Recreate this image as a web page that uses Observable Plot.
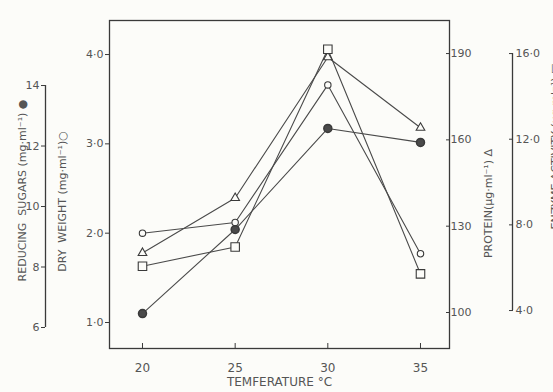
<!DOCTYPE html>
<html><head><meta charset="utf-8">
<script src="https://cdn.jsdelivr.net/npm/d3@7"></script>
<script src="https://cdn.jsdelivr.net/npm/@observablehq/plot@0.6"></script>
<style>html,body{margin:0;padding:0;background:#fcfcf9}</style>
</head><body><div id="chart"></div>
<script>
// ---- data ----
const temperatures = [20, 25, 30, 35];
const dryWeight = [2.0, 2.12, 3.66, 1.77];          // mg·ml⁻¹ (inner left axis) ○
const reducingSugars = [6.46, 9.24, 12.58, 12.12];   // mg·ml⁻¹ (outer left axis) ●
const protein = [120.7, 139.8, 188.7, 164.2];        // µg·ml⁻¹ (inner right axis) △
const activity = [6.07, 6.97, 16.2, 5.71];           // µg·ml⁻¹ (outer right axis) □

const xTicks = [20, 25, 30, 35];
const dryTicks = [1, 2, 3, 4];
const sugarTicks = [6, 8, 10, 12, 14];
const proteinTicks = [100, 130, 160, 190];
const activityTicks = [4, 8, 12, 16];

// ---- secondary axes expressed in the primary (dry weight) units ----
const lin = (v0, a0, v1, a1) => v => a0 + (v - v0) * (a1 - a0) / (v1 - v0);
const sugarToA = lin(6, 0.944, 14, 3.653), aToSugar = lin(0.944, 6, 3.653, 14);
const proteinToA = lin(100, 1.112, 190, 4.011), aToProtein = lin(1.112, 100, 4.011, 190);
const activityToA = lin(4, 1.134, 16, 4.011), aToActivity = lin(1.134, 4, 4.011, 16);

const rows = [];
temperatures.forEach((t, i) => {
  rows.push({series: "dry", t, v: dryWeight[i]});
  rows.push({series: "sugar", t, v: sugarToA(reducingSugars[i])});
  rows.push({series: "protein", t, v: proteinToA(protein[i])});
  rows.push({series: "activity", t, v: activityToA(activity[i])});
});
const of = s => rows.filter(d => d.series === s);

const ink = "#3a3a3a";
const bg = "#fcfcf9";
const dotFmt = d => d3.format(".1f")(d).replace(".", "·");
const xDomain = [18.22, 36.565];

const chart = Plot.plot({
  width: 553, height: 392,
  marginLeft: 109, marginRight: 104, marginTop: 20, marginBottom: 44,
  x: {domain: xDomain},
  y: {domain: [0.709, 4.381]},
  style: {background: bg, color: ink, fontFamily: "DejaVu Sans", fontSize: "11px"},
  marks: [
    Plot.frame({stroke: ink, strokeWidth: 1.3}),
    // x axis (ticks pointing inward)
    Plot.axisX({ticks: xTicks, tickSize: 5, dy: -5, tickPadding: 15, tickFormat: d => d, label: null, fontSize: 12, fill: "#555"}),
    // inner left axis (dry weight)
    Plot.axisY({anchor: "left", ticks: dryTicks, tickSize: 4, tickPadding: 2, tickFormat: dotFmt, label: null, fill: "#555"}),
    // outer left axis (reducing sugars)
    Plot.ruleX([xDomain[0]], {y1: sugarToA(6), y2: sugarToA(14), dx: -64, stroke: ink, strokeWidth: 1.3}),
    Plot.axisY({anchor: "left", ticks: sugarTicks.map(sugarToA), dx: -64, tickSize: 4, tickPadding: 2,
      tickFormat: a => String(Math.round(aToSugar(a))), label: null, fill: "#555"}),
    // inner right axis (protein) on frame edge, ticks inside
    Plot.axisY({anchor: "right", ticks: proteinTicks.map(proteinToA), dx: -4, tickSize: 4, tickPadding: 1,
      tickFormat: a => String(Math.round(aToProtein(a))), label: null, fill: "#555"}),
    // outer right axis
    Plot.ruleX([xDomain[1]], {y1: activityToA(4), y2: activityToA(16), dx: 63, stroke: ink, strokeWidth: 1.3}),
    Plot.axisY({anchor: "right", ticks: activityTicks.map(activityToA), dx: 59, tickSize: 4, tickPadding: 3,
      tickFormat: a => dotFmt(aToActivity(a)), label: null, fill: "#555"}),
    // series lines
    Plot.line(rows, {x: "t", y: "v", z: "series", stroke: "#4a4a4a", strokeWidth: 1.1}),
    // markers
    Plot.dot(of("sugar"), {x: "t", y: "v", symbol: "circle", r: 4, fill: "#4a4a4a", stroke: ink}),
    Plot.dot(of("dry"), {x: "t", y: "v", symbol: "circle", r: 3.2, fill: bg, stroke: ink, strokeWidth: 1.1}),
    Plot.dot(of("protein"), {x: "t", y: "v", symbol: "triangle", r: 3.2, fill: bg, stroke: ink, strokeWidth: 1.1}),
    Plot.dot(of("activity"), {x: "t", y: "v", symbol: "square", r: 4.8, fill: bg, stroke: ink, strokeWidth: 1.1}),
    // axis titles
    Plot.text(["TEMFERATURE °C"], {frameAnchor: "bottom", dx: 0, dy: 37, fontSize: 12, fill: "#555", letterSpacing: 1}),
    Plot.text(["REDUCING  SUGARS (mg·ml⁻¹) ●"], {frameAnchor: "left", textAnchor: "middle", dx: -87, dy: 6, rotate: -90, fontSize: 11, fill: "#555", letterSpacing: 0.6}),
    Plot.text(["DRY  WEIGHT (mg·ml⁻¹)○"], {frameAnchor: "left", textAnchor: "middle", dx: -47, dy: 17, rotate: -90, fontSize: 11, fill: "#555", letterSpacing: 0.6}),
    Plot.text(["PROTEIN(µg·ml⁻¹) Δ"], {frameAnchor: "right", textAnchor: "middle", dx: 39, dy: 19, rotate: -90, fontSize: 11, fill: "#555", letterSpacing: 0.3}),
    Plot.text(["ENZYME ACTIVITY (µg·ml⁻¹) □"], {frameAnchor: "top-right", dx: 102, dy: 43, rotate: -90, textAnchor: "end", fontSize: 11, fill: "#555", letterSpacing: 0.6})
  ]
});
document.getElementById("chart").appendChild(chart);
</script>
</body></html>
